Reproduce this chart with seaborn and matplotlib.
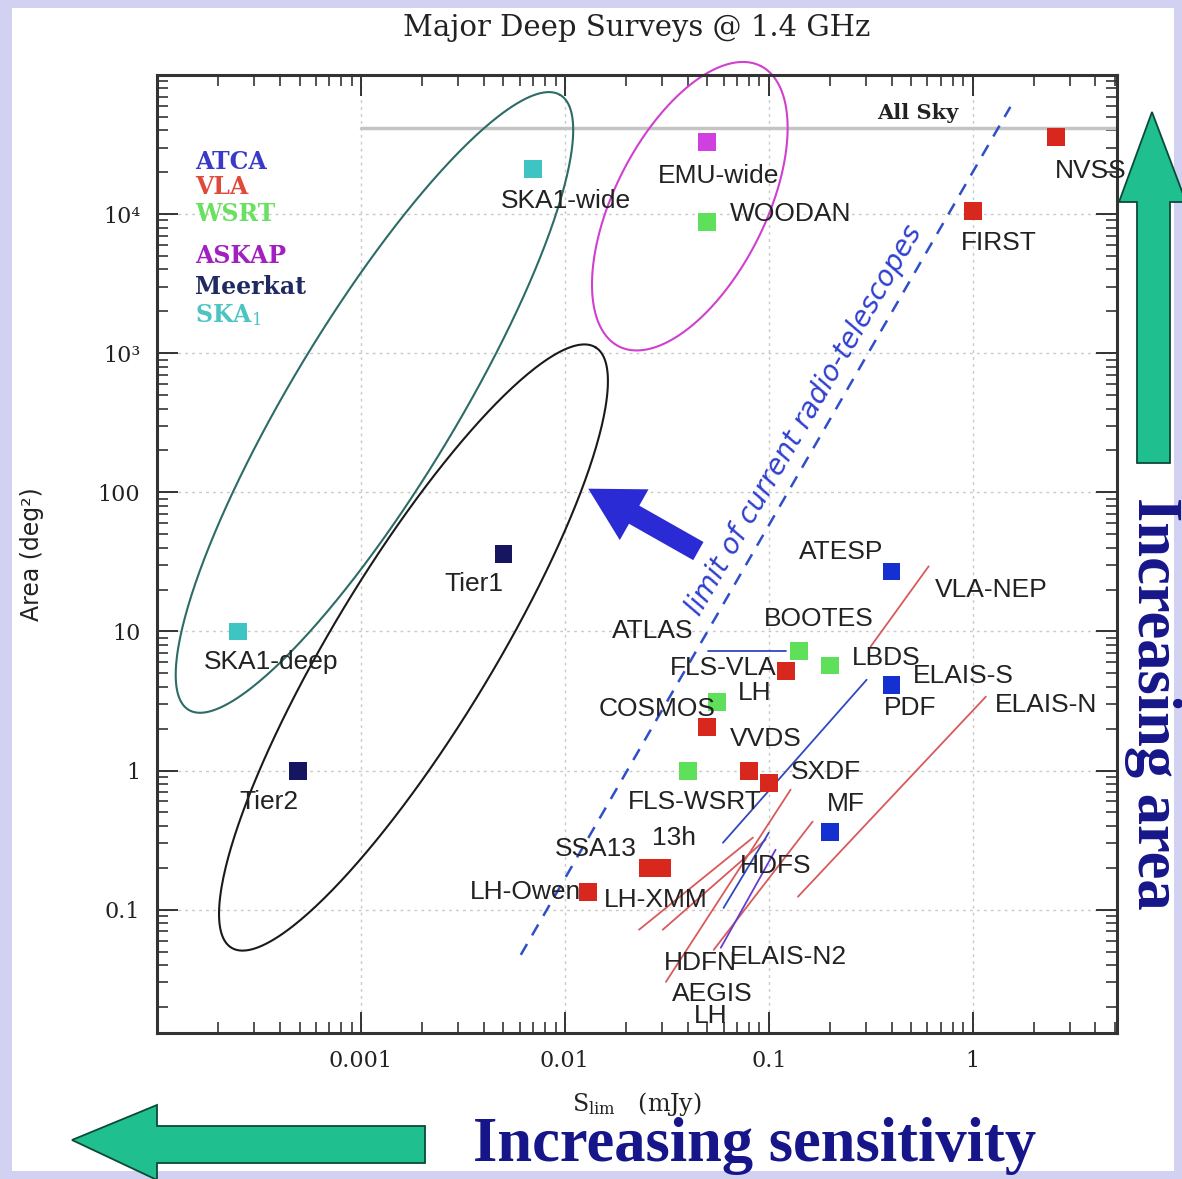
import numpy as np
import pandas as pd
import matplotlib
matplotlib.use("Agg")
import matplotlib.pyplot as plt
import seaborn as sns
from matplotlib.patches import Polygon, Rectangle
from matplotlib.ticker import FixedLocator, FixedFormatter, LogLocator, NullFormatter

# ---------------- data ----------------
survey_names = ["SKA1-wide", "EMU-wide", "WOODAN", "NVSS", "FIRST", "SKA1-deep", "Tier1", "Tier2",
                "ATESP", "PDF", "MF", "BOOTES", "LBDS", "FLS-VLA", "LH", "COSMOS", "FLS-WSRT",
                "VVDS", "SXDF", "SSA13", "13h", "LH-Owen"]
survey_telescope = ["SKA1", "ASKAP", "WSRT", "VLA", "VLA", "SKA1", "Meerkat", "Meerkat",
                    "ATCA", "ATCA", "ATCA", "WSRT", "WSRT", "VLA", "WSRT", "VLA", "WSRT",
                    "VLA", "VLA", "VLA", "VLA", "VLA"]
survey_flux = [0.0070, 0.050, 0.050, 2.55, 1.0, 2.5e-4, 0.005, 4.9e-4,
               0.40, 0.40, 0.20, 0.14, 0.20, 0.121, 0.0556, 0.050, 0.040,
               0.080, 0.10, 0.0255, 0.030, 0.013]
survey_area = [2.1e4, 3.3e4, 8.8e3, 3.6e4, 1.05e4, 10, 36, 1.0,
               27, 4.1, 0.36, 7.2, 5.7, 5.2, 3.1, 2.07, 1.0,
               1.0, 0.82, 0.20, 0.20, 0.134]

telescopes = ["ATCA", "VLA", "WSRT", "ASKAP", "Meerkat", "SKA1"]
telescope_colors = ["#1530d0", "#d8281e", "#5fe05a", "#d040e0", "#151560", "#3fc4c4"]
legend_colors = ["#3a3ac8", "#e04a3a", "#6ae060", "#a020c0", "#1f2a60", "#4cc4c4"]
legend_labels = ["ATCA", "VLA", "WSRT", "ASKAP", "Meerkat", "SKA$_1$"]

label_text = ["SKA1-wide", "EMU-wide", "WOODAN", "NVSS", "FIRST", "SKA1-deep", "Tier1", "Tier2",
              "ATESP", "VLA-NEP", "BOOTES", "ATLAS", "FLS-VLA", "LBDS", "ELAIS-S", "LH", "PDF",
              "ELAIS-N", "COSMOS", "VVDS", "SXDF", "FLS-WSRT", "MF", "13h", "SSA13", "HDFS",
              "LH-Owen", "LH-XMM", "ELAIS-N2", "HDFN", "AEGIS", "LH"]
label_x = [0.0101, 0.0569, 0.128, 3.78, 1.34, 3.62e-4, 3.58e-3, 3.54e-4,
           0.2254, 1.24, 0.176, 0.027, 0.0596, 0.375, 0.904, 0.0853, 0.491,
           2.28, 0.0283, 0.0966, 0.19, 0.0434, 0.238, 0.0342, 0.0142, 0.108,
           6.44e-3, 0.0279, 0.1253, 0.0464, 0.0526, 0.052]
label_y = [1.24e4, 1.87e4, 1.0e4, 2.04e4, 6180, 6.08, 21.8, 0.598,
           37, 20, 12.2, 10, 5.5, 6.5, 4.82, 3.64, 2.84,
           2.94, 2.79, 1.70, 0.984, 0.598, 0.58, 0.33, 0.275, 0.207,
           0.1346, 0.118, 0.0459, 0.0416, 0.0249, 0.01726]

# survey range lines (flux, area endpoints)
range_x0 = [0.0231, 0.0302, 0.0313, 0.0537, 0.0582, 0.139, 0.316, 0.0506, 0.0596, 0.060]
range_y0 = [0.0718, 0.0718, 0.0303, 0.0515, 0.0533, 0.124, 7.8, 7.3, 0.303, 0.103]
range_x1 = [0.0836, 0.0966, 0.128, 0.164, 0.108, 1.16, 0.608, 0.121, 0.302, 0.100]
range_y1 = [0.330, 0.319, 0.73, 0.43, 0.270, 3.4, 29.4, 7.3, 4.5, 0.358]
range_kind = ["VLA", "VLA", "VLA", "VLA", "mixed", "VLA", "VLA", "ATCA", "ATCA", "ATCA"]

# limit of current radio telescopes
limit_x = [6.08e-3, 1.53]
limit_y = [0.0474, 5.9e4]

all_sky_area = 41253
all_sky_x = [1e-3, 5.1]

# ellipses: centre, tip of major axis, minor/major ratio
ell_cx = [1.165e-3, 1.81e-3, 0.041]
ell_cy = [443, 7.67, 1.14e4]
ell_tx = [9.5e-3, 0.01413, 0.0914]
ell_ty = [7.18e4, 1104, 1.16e5]
ell_ratio = [0.229, 0.228, 0.48]
ell_colors = ["#2d6b66", "#1a1a1a", "#d040d0"]

x_ticks = [1e-3, 1e-2, 1e-1, 1]
x_ticklabels = ["0.001", "0.01", "0.1", "1"]
y_ticks = [0.1, 1, 10, 100, 1e3, 1e4]
y_ticklabels = ["0.1", "1", "10", "100", "10³", "10⁴"]

# ---------------- style ----------------
sns.set_style("ticks")
plt.rcParams["font.family"] = ["Liberation Sans", "DejaVu Sans"]
plt.rcParams["mathtext.fontset"] = "dejavuserif"

W, H = 1182, 1179
fig = plt.figure(figsize=(W / 100, H / 100), dpi=100)
fig.patch.set_facecolor("#d3d1f1")
fig.add_artist(Rectangle((12 / W, 8 / H), (W - 20) / W, (H - 16) / H,
                         transform=fig.transFigure, facecolor="white", edgecolor="none", zorder=-10))

ax_l, ax_r, ax_t, ax_b = 157, 1117, 75, 1033
ax = fig.add_axes([ax_l / W, 1 - ax_b / H, (ax_r - ax_l) / W, (ax_b - ax_t) / H])
ax.set_facecolor("none")
ax.set_xscale("log")
ax.set_yscale("log")
ax.set_xlim(1e-4, 5.1)
ax.set_ylim(0.013, 1e5)

df = pd.DataFrame({"name": survey_names, "telescope": survey_telescope,
                   "flux": survey_flux, "area": survey_area})
sns.scatterplot(data=df, x="flux", y="area", hue="telescope", hue_order=telescopes,
                palette=dict(zip(telescopes, telescope_colors)), marker="s", s=165,
                edgecolor="none", legend=False, ax=ax, zorder=5)
ax.set_xlim(1e-4, 5.1)
ax.set_ylim(0.013, 1e5)

# grid
for xv in x_ticks:
    ax.axvline(xv, color="#c9c9c9", lw=1.0, ls=(0, (2, 3)), zorder=0)
for yv in y_ticks:
    ax.axhline(yv, color="#c9c9c9", lw=1.0, ls=(0, (2, 3)), zorder=0)

# all-sky line
ax.plot(all_sky_x, [all_sky_area, all_sky_area], color="#c4c4c4", lw=2.5, zorder=1, clip_on=True)
ax.text(0.537, 5.33e4, "All Sky", family="DejaVu Serif", fontweight="bold", fontsize=15,
        ha="center", va="center", color="#222222")

# survey range lines
line_color = {"VLA": "#d85a5a", "ATCA": "#3048c0", "mixed": "#6a3ad0"}
for x0, y0, x1, y1, k in zip(range_x0, range_y0, range_x1, range_y1, range_kind):
    ax.plot([x0, x1], [y0, y1], color=line_color[k], lw=1.3, zorder=3)

# limit line
ax.plot(limit_x, limit_y, color="#2f4fc8", lw=1.8, ls=(0, (5, 4)), zorder=3)
p0 = ax.transData.transform((limit_x[0], limit_y[0]))
p1 = ax.transData.transform((limit_x[1], limit_y[1]))
ang = np.degrees(np.arctan2(p1[1] - p0[1], p1[0] - p0[0]))
ax.text(0.150, 330, "limit of current radio-telescopes", rotation=ang, rotation_mode="anchor",
        ha="center", va="center", color="#2f3fcf", fontsize=20, style="italic",
        family="DejaVu Sans", zorder=4)

# thick arrow
ax.annotate("", xy=(0.01267, 108.7), xytext=(0.0464, 37),
            arrowprops=dict(arrowstyle="simple,head_width=2.1,head_length=1.9,tail_width=0.75",
                            mutation_scale=20, color="#2b2bd6", lw=0), zorder=4)

# ellipses
th = np.linspace(0, 2 * np.pi, 400)
for cx, cy, tx, ty, r, col in zip(ell_cx, ell_cy, ell_tx, ell_ty, ell_ratio, ell_colors):
    c = ax.transData.transform((cx, cy))
    t = ax.transData.transform((tx, ty))
    u = t - c
    v = np.array([-u[1], u[0]]) * r
    pts = c[None, :] + np.cos(th)[:, None] * u[None, :] + np.sin(th)[:, None] * v[None, :]
    d = ax.transData.inverted().transform(pts)
    ax.plot(d[:, 0], d[:, 1], color=col, lw=1.5, clip_on=False, zorder=2)

# survey labels
for s, x, y in zip(label_text, label_x, label_y):
    ax.text(x, y, s, ha="center", va="center", fontsize=19, color="#222222", zorder=6,
            clip_on=False)

# telescope legend
leg_y = [0.909, 0.883, 0.855, 0.811, 0.779, 0.749]
for lab, col, yy in zip(legend_labels, legend_colors, leg_y):
    ax.text(0.040, yy, lab, transform=ax.transAxes, color=col, fontsize=17,
            fontweight="bold", family="DejaVu Serif", ha="left", va="center")

# ticks
ax.xaxis.set_major_locator(FixedLocator(x_ticks))
ax.xaxis.set_major_formatter(FixedFormatter(x_ticklabels))
ax.xaxis.set_minor_locator(LogLocator(base=10, subs=np.arange(2, 10), numticks=20))
ax.xaxis.set_minor_formatter(NullFormatter())
ax.yaxis.set_major_locator(FixedLocator(y_ticks))
ax.yaxis.set_major_formatter(FixedFormatter(y_ticklabels))
ax.yaxis.set_minor_locator(LogLocator(base=10, subs=np.arange(2, 10), numticks=20))
ax.yaxis.set_minor_formatter(NullFormatter())
ax.tick_params(which="both", direction="in", top=True, right=True, color="#333333")
ax.tick_params(which="major", length=15, width=1.4)
ax.tick_params(which="minor", length=8, width=1.2)
ax.tick_params(axis="x", which="major", pad=12)
ax.tick_params(axis="y", which="major", pad=12)
for lab in ax.get_xticklabels() + ax.get_yticklabels():
    lab.set_family("DejaVu Serif")
    lab.set_fontsize(16)
    lab.set_color("#222222")
for sp in ax.spines.values():
    sp.set_linewidth(2.2)
    sp.set_color("#333333")

ax.set_xlabel(r"S$_{\rm lim}$   (mJy)", family="DejaVu Serif", fontsize=17, color="#222222")
ax.xaxis.set_label_coords(0.50, -0.060)
ax.set_ylabel("Area (deg²)", family=["Liberation Sans Narrow", "DejaVu Sans"], fontsize=17,
              color="#222222")
ax.yaxis.set_label_coords(-0.118, 0.50)
ax.set_title("Major Deep Surveys @ 1.4 GHz", family="DejaVu Serif", fontsize=21,
             color="#222222", pad=28)

# big green arrows and captions
def fpx(pts):
    return [(x / W, 1 - y / H) for x, y in pts]

up_arrow = [(1152, 112), (1186, 202), (1170, 202), (1170, 463), (1137, 463), (1137, 202), (1119, 202)]
left_arrow = [(72, 1140), (157, 1105), (157, 1126), (425, 1126), (425, 1163), (157, 1163), (157, 1180)]
for pts in (up_arrow, left_arrow):
    fig.add_artist(Polygon(fpx(pts), closed=True, transform=fig.transFigure,
                           facecolor="#1fbf8f", edgecolor="#0c4a38", lw=1.3, zorder=5))

fig.text(1153 / W, 1 - 703 / H, "Increasing area", rotation=-90, ha="center", va="center",
         family="Liberation Serif", fontweight="bold", fontsize=45, color="#16168a")
fig.text(755 / W, 1 - 1146 / H, "Increasing sensitivity", ha="center", va="center",
         family="Liberation Serif", fontweight="bold", fontsize=45, color="#16168a")

fig.savefig("out.png", dpi=100, facecolor=fig.get_facecolor())
